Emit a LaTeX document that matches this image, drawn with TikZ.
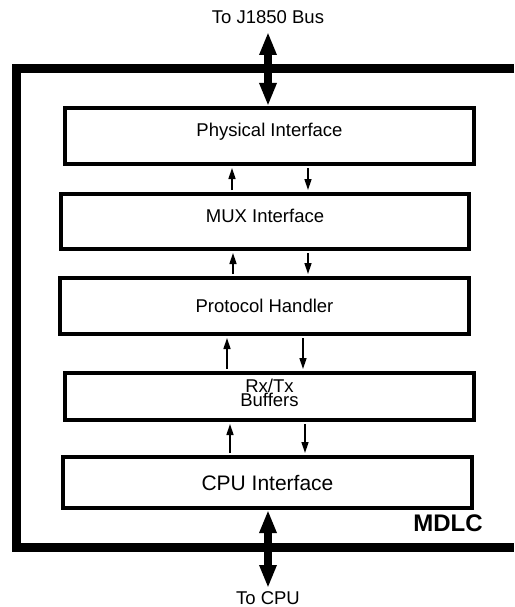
\documentclass[tikz,border=0pt]{standalone}
\usepackage{fontspec}
\setmainfont{Liberation Sans}
\usetikzlibrary{arrows.meta}

\begin{document}
\begin{tikzpicture}[
    x=1pt, y=-1pt,
    font=\fontsize{18.5}{14}\selectfont,
    box/.style={draw, line width=4pt, minimum width=409pt, minimum height=#1, align=center},
    frame/.style={line width=9pt},
    bigarr/.style={{Triangle[length=23pt, width=16pt]}-{Triangle[length=23pt, width=16pt]}, line width=8pt},
    arr/.style={-{Triangle[length=11pt, width=7pt]}, line width=1.5pt, shorten <=2pt, shorten >=2pt},
]
\useasboundingbox (0,0) rectangle (514,607);
% MDLC frame, open on the right
\draw[frame] (514,69) -| (16,547) -- (514,547);
\node[box=56pt, text depth=11.5pt] (phys) at (269.5,136) {Physical Interface};
\node[box=55pt, minimum width=408pt, text depth=10.5pt] (mux) at (265,221.5) {MUX Interface};
\node[box=56pt] (proto) at (264.5,306) {Protocol Handler};
\node[box=47pt, text depth=8pt] (buf) at (269.5,396.5) {Rx/Tx\\Buffers};
\node[box=51pt, font=\fontsize{21}{24}\selectfont] (cpu) at (267.5,482.5) {CPU Interface};
\node[font=\bfseries\fontsize{24}{28}\selectfont] (mdlc) at (448,523.5) {MDLC};
% up / down between the layers
\foreach \lo/\hi/\u/\d in {mux/phys/232/308, proto/mux/233/308, buf/proto/227/303, cpu/buf/230/305} {
    \draw[arr] (\u,0 |- \lo.north) -- (\u,0 |- \hi.south);
    \draw[arr] (\d,0 |- \hi.south) -- (\d,0 |- \lo.north);
}
% bus and cpu side
\node (bus) at (268,17) {To J1850 Bus};
\coordinate (bustip) at (268,32);
\draw[bigarr] (bustip) -- (bustip |- phys.north);
\node (tocpu) at (268,598) {To CPU};
\coordinate (cputip) at (268,588);
\draw[bigarr] (cputip |- cpu.south) -- (cputip);
\end{tikzpicture}
\end{document}
